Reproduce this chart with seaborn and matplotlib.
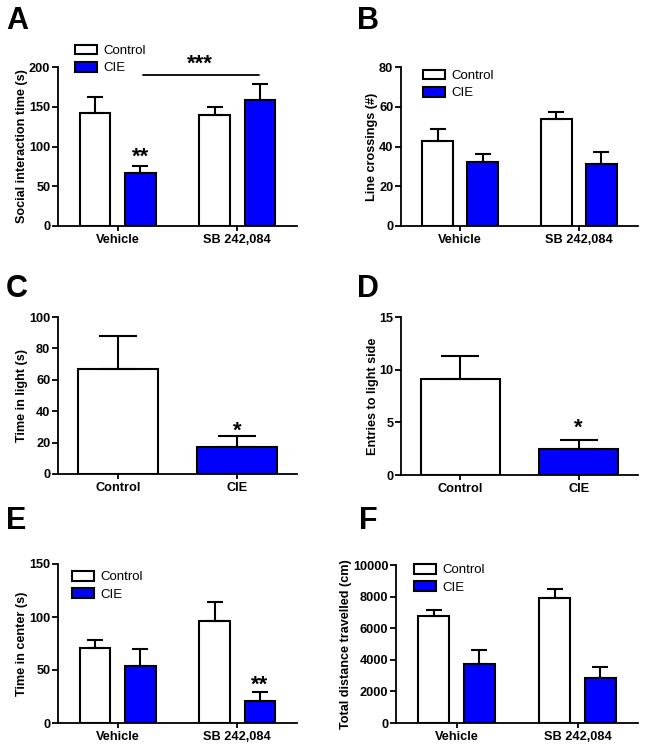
import matplotlib
matplotlib.use("Agg")
import matplotlib.pyplot as plt
import matplotlib.patches as mpatches
import pandas as pd
import seaborn as sns

BLUE = "#0000ff"

treatments = ["Vehicle", "SB 242,084"]
conditions = ["Control", "CIE"]

# A - social interaction
social_ctrl = [142, 140]
social_ctrl_sem = [20, 10]
social_cie = [67, 159]
social_cie_sem = [9, 20]

# B - line crossings
cross_ctrl = [43, 54]
cross_ctrl_sem = [6, 3.5]
cross_cie = [32, 31]
cross_cie_sem = [4, 6]

# C / D - light-dark box
light_time = [67, 17.5]
light_time_sem = [21, 6.5]
light_entries = [9.1, 2.5]
light_entries_sem = [2.2, 0.8]

# E - time in center
center_ctrl = [71, 96]
center_ctrl_sem = [7, 18]
center_cie = [54, 21]
center_cie_sem = [16, 8]

# F - distance travelled
dist_ctrl = [6800, 7900]
dist_ctrl_sem = [350, 550]
dist_cie = [3750, 2850]
dist_cie_sem = [850, 700]

sns.set_style("ticks")
plt.rcParams["font.family"] = ["Liberation Sans", "DejaVu Sans"]
plt.rcParams.update({
    "axes.linewidth": 1.3,
    "axes.edgecolor": "black",
    "axes.labelcolor": "black",
    "text.color": "black",
    "xtick.color": "black",
    "ytick.color": "black",
})

W, H = 646, 748


def fig_rect(left, top, right, bottom):
    return [left / W, 1 - bottom / H, (right - left) / W, (bottom - top) / H]


def style_axis(ax, ylabel, ymax, step):
    ax.set_ylim(0, ymax)
    ax.set_xlim(-0.5, 1.5)
    ax.set_yticks([i * step for i in range(int(round(ymax / step)) + 1)])
    ax.set_xlabel("")
    ax.set_ylabel(ylabel, fontsize=9.1, fontweight="bold", labelpad=0.5)
    ax.tick_params(direction="out", length=4.5, width=1.3, labelsize=9.2, pad=1)
    ax.tick_params(axis="x", length=3.5, pad=2)
    for lab in ax.get_xticklabels() + ax.get_yticklabels():
        lab.set_fontweight("bold")
    sns.despine(ax=ax)


def add_legend(fig, ax, x_px, y_px):
    handles = [mpatches.Patch(facecolor="white", edgecolor="black", linewidth=1.5),
               mpatches.Patch(facecolor=BLUE, edgecolor="black", linewidth=1.5)]
    ax.legend(handles, conditions, loc="upper left",
              bbox_to_anchor=(x_px / W, 1 - y_px / H), bbox_transform=fig.transFigure,
              frameon=False, fontsize=9.5, borderpad=0, borderaxespad=0,
              handlelength=1.7, handleheight=0.75, handletextpad=0.45, labelspacing=0.38)


def grouped_panel(fig, ax, ctrl, ctrl_err, cie, cie_err, ylabel, ymax, step, leg_xy):
    df = pd.DataFrame({
        "treatment": treatments * 2,
        "group": ["Control"] * 2 + ["CIE"] * 2,
        "value": ctrl + cie,
    })
    sns.barplot(data=df, x="treatment", y="value", hue="group", order=treatments,
                hue_order=conditions, palette={"Control": "white", "CIE": BLUE},
                saturation=1, edgecolor="black", linewidth=1.5, width=0.76, gap=0.32,
                errorbar=None, legend=False, ax=ax)
    for container, errs in zip(ax.containers, [ctrl_err, cie_err]):
        for bar, e in zip(container, errs):
            x = bar.get_x() + bar.get_width() / 2
            ax.errorbar(x, bar.get_height(), yerr=[[0], [e]], fmt="none", ecolor="black",
                        elinewidth=1.5, capsize=5.8, capthick=1.5, zorder=1)
    style_axis(ax, ylabel, ymax, step)
    add_legend(fig, ax, *leg_xy)


def single_panel(ax, vals, errs, ylabel, ymax, step):
    df = pd.DataFrame({"group": conditions, "value": vals})
    sns.barplot(data=df, x="group", y="value", hue="group", order=conditions,
                palette={"Control": "white", "CIE": BLUE}, saturation=1, edgecolor="black",
                linewidth=1.5, width=0.67, errorbar=None, legend=False, ax=ax)
    bars = sorted(ax.patches, key=lambda p: p.get_x())
    for bar, e in zip(bars, errs):
        x = bar.get_x() + bar.get_width() / 2
        ax.errorbar(x, bar.get_height(), yerr=[[0], [e]], fmt="none", ecolor="black",
                    elinewidth=1.5, capsize=14, capthick=1.5, zorder=1)
    style_axis(ax, ylabel, ymax, step)


fig = plt.figure(figsize=(W / 100, H / 100), dpi=100)

axA = fig.add_axes(fig_rect(58, 67, 297, 226))
axB = fig.add_axes(fig_rect(401, 67, 638, 226))
axC = fig.add_axes(fig_rect(58, 317, 297, 474))
axD = fig.add_axes(fig_rect(401, 317, 638, 475))
axE = fig.add_axes(fig_rect(58, 564, 297, 723))
axF = fig.add_axes(fig_rect(396, 565, 638, 723))

grouped_panel(fig, axA, social_ctrl, social_ctrl_sem, social_cie, social_cie_sem,
              "Social interaction time (s)", 200, 50, (75, 44.5))
grouped_panel(fig, axB, cross_ctrl, cross_ctrl_sem, cross_cie, cross_cie_sem,
              "Line crossings (#)", 80, 20, (423, 69.5))
single_panel(axC, light_time, light_time_sem, "Time in light (s)", 100, 20)
single_panel(axD, light_entries, light_entries_sem, "Entries to light side", 15, 5)
grouped_panel(fig, axE, center_ctrl, center_ctrl_sem, center_cie, center_cie_sem,
              "Time in center (s)", 150, 50, (72, 571))
grouped_panel(fig, axF, dist_ctrl, dist_ctrl_sem, dist_cie, dist_cie_sem,
              "Total distance travelled (cm)", 10000, 2000, (414, 564))

star_kw = dict(ha="center", va="center", fontsize=16, fontweight="bold", clip_on=False)
axA.text(0.19, 87, "**", **star_kw)
axA.plot([0.21, 1.18], [190, 190], color="black", linewidth=1.3, clip_on=False)
axA.text(0.69, 204, "***", **star_kw)
axC.text(1, 27, "*", **star_kw)
axD.text(1, 4.4, "*", **star_kw)
axE.text(1.19, 36, "**", **star_kw)

for letter, x, y in [("A", 6, 6), ("B", 357, 6), ("C", 6, 274), ("D", 357, 274),
                     ("E", 6, 506), ("F", 359, 506)]:
    fig.text(x / W, 1 - y / H, letter, fontsize=22, fontweight="bold", ha="left", va="top")

fig.savefig("out.png", dpi=100)
